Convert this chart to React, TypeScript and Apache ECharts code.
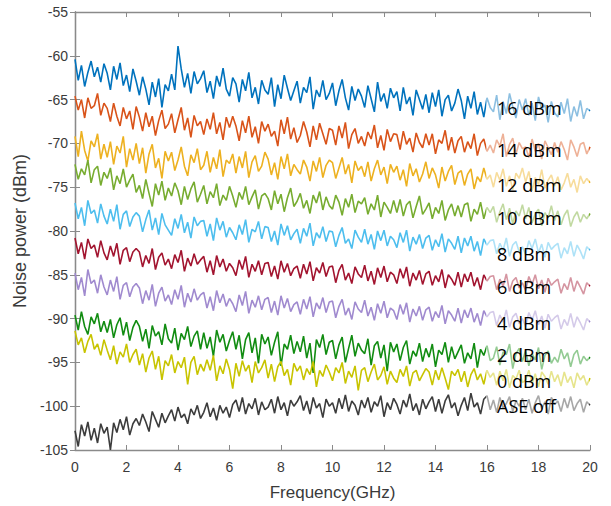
import React, { useEffect, useRef } from "react";
import * as echarts from "echarts";

// Sampling grid (GHz): 161 samples, 0.125 GHz apart, 0 to 20 GHz
const freqGHz: number[] = Array.from({ length: 161 }, (_, i) => i * 0.125);

const xTicks = [0, 2, 4, 6, 8, 10, 12, 14, 16, 18, 20];
const yTicks = [-105, -100, -95, -90, -85, -80, -75, -70, -65, -60, -55];

const seriesNames = ["16 dBm", "14 dBm", "12 dBm", "10 dBm", "8 dBm", "6 dBm", "4 dBm", "2 dBm", "0 dBm", "ASE off"];
const seriesColors = ["#0072BD", "#D95319", "#EDB120", "#77AC30", "#4DBEEE", "#A2142F", "#A08ACF", "#118C11", "#C8C400", "#3C3C3C"];

const p16 = [
  -60.4, -62.8, -61.1, -63.5, -61.9, -60.6, -62.4, -61.3, -63.0, -60.9,
  -62.0, -63.9, -61.2, -62.7, -60.8, -63.4, -62.2, -64.1, -61.5, -62.9,
  -64.5, -62.4, -63.8, -65.6, -63.0, -64.7, -62.6, -65.9, -63.3, -64.0,
  -62.1, -63.9, -58.9, -61.5, -63.6, -62.0, -64.3, -61.8, -63.2, -62.6,
  -61.7, -64.2, -62.9, -64.9, -62.3, -63.5, -61.4, -63.8, -64.6, -62.5,
  -63.2, -65.3, -62.7, -64.0, -61.9, -64.8, -63.6, -65.5, -62.8, -63.9,
  -64.4, -62.5, -65.8, -63.3, -64.9, -62.2, -63.7, -65.1, -64.0, -62.9,
  -65.4, -63.6, -64.2, -62.4, -66.1, -63.9, -64.7, -62.8, -65.0, -64.3,
  -63.1, -65.7, -64.0, -62.7, -64.8, -66.2, -63.5, -65.1, -63.8, -64.6,
  -65.9, -63.4, -64.9, -66.4, -63.0, -65.2, -64.3, -66.0, -63.7, -64.8,
  -64.1, -66.3, -63.6, -65.5, -64.7, -66.8, -63.9, -65.0, -66.1, -64.4,
  -66.5, -64.2, -65.8, -63.9, -66.9, -65.0, -64.5, -66.3, -65.4, -63.8,
  -65.1, -67.2, -64.6, -66.0, -64.1, -66.7, -65.3, -67.0, -64.8, -65.9,
  -66.4, -64.5, -67.3, -65.2, -66.6, -64.3, -65.8, -67.1, -65.0, -66.2,
  -64.9, -66.8, -65.4, -67.4, -64.7, -66.1, -65.6, -67.6, -65.2, -66.5,
  -67.0, -65.3, -66.6, -64.9, -67.5, -65.8, -66.9, -65.1, -67.2, -66.0,
  -66.3,
];
const p14 = [
  -64.6, -66.2, -65.0, -67.1, -64.8, -66.0, -65.7, -64.3, -66.8, -65.4,
  -66.0, -67.5, -65.4, -66.9, -68.0, -65.9, -67.2, -66.3, -68.4, -65.8,
  -67.0, -68.6, -66.5, -68.1, -66.9, -69.1, -67.4, -66.2, -68.3, -67.8,
  -66.6, -68.8, -67.3, -65.9, -68.5, -67.1, -69.3, -66.8, -68.0, -67.5,
  -69.0, -67.2, -68.4, -66.5, -68.9, -67.6, -69.6, -67.0, -68.2, -66.9,
  -68.0, -69.7, -67.4, -68.8, -66.9, -69.3, -68.1, -70.0, -67.5, -68.6,
  -67.8, -69.2, -68.6, -70.3, -67.3, -68.9, -67.0, -69.5, -68.2, -69.9,
  -69.1, -67.5, -68.7, -70.4, -68.0, -69.6, -67.7, -68.9, -70.1, -68.3,
  -68.5, -70.2, -68.0, -69.4, -67.6, -70.6, -69.0, -68.3, -70.0, -69.2,
  -70.3, -68.7, -69.5, -67.9, -70.5, -69.1, -70.8, -68.4, -69.8, -68.9,
  -69.0, -70.7, -68.6, -70.1, -69.4, -71.0, -68.8, -69.9, -70.5, -68.9,
  -70.2, -68.9, -71.2, -69.6, -70.0, -68.5, -70.8, -69.3, -71.1, -69.7,
  -69.2, -71.0, -69.8, -70.6, -68.9, -71.4, -70.0, -69.5, -70.9, -70.2,
  -71.1, -69.6, -70.3, -68.9, -71.5, -70.1, -69.4, -71.2, -69.9, -70.6,
  -70.4, -71.6, -69.5, -70.9, -70.0, -71.8, -69.7, -70.5, -71.3, -69.9,
  -71.0, -69.8, -70.7, -71.9, -69.6, -70.4, -71.5, -70.1, -69.9, -71.2,
  -70.4,
];
const p12 = [
  -69.2, -71.5, -68.6, -70.8, -72.0, -69.7, -70.4, -68.9, -71.8, -70.1,
  -71.6, -69.8, -72.4, -70.3, -71.1, -69.2, -72.7, -70.6, -71.9, -70.0,
  -72.3, -70.5, -73.4, -71.2, -70.1, -72.8, -71.7, -74.0, -70.9, -72.0,
  -71.0, -73.1, -71.9, -70.4, -72.6, -73.7, -71.3, -72.2, -70.6, -73.0,
  -72.5, -70.9, -73.3, -71.6, -72.9, -70.7, -73.8, -71.9, -72.3, -71.2,
  -73.4, -71.5, -72.8, -70.9, -73.9, -72.1, -71.4, -73.2, -72.6, -71.0,
  -71.8, -73.6, -72.2, -74.1, -71.5, -72.9, -71.2, -73.7, -72.4, -73.0,
  -73.5, -71.9, -72.7, -74.3, -72.0, -73.2, -71.6, -73.9, -72.5, -71.9,
  -72.2, -74.0, -72.8, -71.6, -73.5, -72.4, -74.5, -72.0, -73.1, -72.6,
  -73.8, -72.1, -74.3, -72.9, -71.9, -73.6, -72.7, -74.6, -72.4, -73.3,
  -72.6, -74.2, -73.0, -74.9, -72.3, -73.7, -72.9, -74.4, -73.5, -72.1,
  -74.0, -72.8, -73.6, -75.1, -72.7, -74.3, -73.2, -72.5, -74.7, -73.4,
  -73.1, -74.8, -73.5, -72.9, -75.2, -73.8, -74.4, -72.8, -74.1, -73.6,
  -75.0, -73.3, -74.2, -72.9, -74.9, -73.7, -75.3, -73.4, -74.0, -72.8,
  -74.4, -73.2, -75.4, -73.9, -74.7, -73.0, -75.1, -74.2, -73.6, -74.9,
  -73.8, -75.3, -74.5, -73.4, -75.0, -74.1, -75.6, -73.7, -74.6, -74.0,
  -74.5,
];
const p10 = [
  -72.4, -74.1, -72.9, -73.6, -71.9, -74.5, -73.0, -72.6, -74.8, -73.3,
  -74.0, -72.8, -75.3, -73.7, -74.6, -72.9, -75.0, -74.2, -73.5, -75.6,
  -74.8, -76.3, -74.1, -75.7, -77.2, -74.6, -75.9, -74.3, -76.5, -75.1,
  -76.0, -74.5, -75.4, -77.0, -74.9, -76.4, -75.2, -74.4, -76.7, -75.8,
  -74.8, -76.9, -75.5, -76.2, -74.6, -77.1, -75.9, -76.5, -74.9, -76.0,
  -77.3, -75.6, -76.4, -74.9, -77.0, -76.1, -75.3, -77.5, -76.0, -75.7,
  -76.3, -77.6, -75.4, -76.9, -75.8, -77.8, -76.2, -75.1, -77.2, -76.6,
  -75.7, -77.4, -76.5, -78.0, -75.9, -76.8, -75.5, -77.6, -76.1, -77.1,
  -77.5, -75.9, -76.7, -78.2, -76.3, -77.3, -75.8, -77.9, -76.6, -76.9,
  -76.2, -78.1, -76.9, -77.6, -75.9, -78.4, -76.7, -77.3, -78.0, -76.5,
  -77.9, -76.4, -78.3, -77.0, -76.6, -78.5, -77.2, -76.0, -78.1, -77.5,
  -76.8, -78.6, -77.3, -78.0, -76.5, -78.8, -77.6, -76.9, -78.3, -77.1,
  -78.4, -77.0, -76.8, -78.9, -77.5, -78.1, -76.7, -78.6, -77.3, -77.9,
  -77.2, -79.0, -77.8, -76.9, -78.7, -77.4, -79.2, -77.7, -78.3, -77.0,
  -78.6, -77.3, -79.1, -78.0, -77.5, -79.4, -77.9, -78.5, -77.1, -78.8,
  -77.7, -79.3, -78.2, -77.6, -79.5, -78.4, -77.8, -79.0, -78.1, -78.6,
  -78.0,
];
const p8 = [
  -76.8, -78.6, -77.3, -79.4, -76.5, -78.0, -77.6, -79.1, -76.9, -78.3,
  -79.2, -77.5, -78.9, -77.0, -79.8, -78.1, -77.7, -79.5, -78.4, -77.9,
  -78.3, -80.1, -78.7, -77.6, -79.9, -78.5, -80.4, -78.0, -79.3, -79.9,
  -80.5, -78.6, -79.7, -78.1, -80.2, -79.0, -80.8, -78.4, -79.4, -78.9,
  -78.8, -80.6, -79.2, -81.1, -78.5, -79.9, -78.9, -80.7, -79.6, -80.2,
  -81.0, -79.3, -80.4, -78.7, -81.3, -79.8, -80.1, -78.9, -80.9, -79.5,
  -79.6, -81.2, -80.0, -81.6, -79.2, -80.5, -79.4, -81.0, -80.3, -79.8,
  -81.4, -79.7, -80.6, -79.1, -81.7, -80.2, -80.8, -79.5, -81.2, -80.0,
  -80.1, -81.8, -80.5, -79.6, -81.4, -80.9, -82.0, -79.9, -80.7, -81.3,
  -79.8, -81.5, -80.4, -82.1, -80.0, -81.1, -79.9, -81.7, -80.6, -81.0,
  -81.9, -80.2, -81.3, -79.9, -82.3, -80.7, -81.5, -80.4, -82.0, -80.8,
  -80.5, -82.2, -81.0, -81.8, -80.3, -82.4, -80.9, -81.4, -82.1, -80.6,
  -82.5, -80.8, -81.7, -80.6, -82.3, -81.2, -82.8, -80.9, -81.6, -81.1,
  -81.0, -82.6, -81.4, -82.2, -80.8, -82.9, -81.6, -81.2, -82.4, -81.8,
  -82.7, -81.1, -82.0, -80.9, -82.5, -81.5, -83.0, -81.3, -82.1, -81.7,
  -81.4, -83.1, -81.9, -82.6, -81.2, -82.9, -81.6, -82.3, -83.2, -81.8,
  -82.2,
];
const p6 = [
  -80.8, -82.6, -81.3, -83.2, -80.9, -82.0, -81.6, -83.0, -81.1, -82.5,
  -83.3, -81.7, -82.9, -81.4, -83.8, -82.2, -81.9, -83.5, -82.4, -82.0,
  -82.4, -84.1, -82.8, -83.7, -82.0, -84.4, -83.0, -82.5, -83.9, -83.2,
  -84.3, -82.7, -83.6, -82.2, -84.6, -83.1, -84.0, -82.6, -83.8, -83.3,
  -82.9, -84.7, -83.4, -85.0, -82.8, -84.1, -83.2, -84.6, -83.7, -84.2,
  -85.1, -83.3, -84.4, -82.9, -85.3, -83.8, -84.6, -83.4, -85.0, -83.7,
  -83.6, -85.2, -84.0, -85.5, -83.4, -84.7, -83.7, -85.1, -84.3, -84.0,
  -85.4, -83.8, -84.9, -83.5, -85.7, -84.2, -84.8, -83.6, -85.2, -84.1,
  -84.0, -85.9, -84.5, -83.8, -85.6, -84.8, -86.0, -84.1, -84.9, -85.3,
  -83.9, -85.7, -84.6, -86.1, -84.2, -85.3, -84.0, -85.8, -84.7, -85.0,
  -86.0, -84.3, -85.4, -84.1, -86.3, -84.8, -85.6, -84.5, -86.1, -84.9,
  -84.6, -86.2, -85.1, -85.8, -84.4, -86.5, -85.0, -85.5, -86.2, -84.7,
  -86.4, -84.9, -85.8, -84.7, -86.3, -85.3, -86.7, -85.0, -85.7, -85.2,
  -85.1, -86.7, -85.5, -86.3, -84.9, -86.9, -85.7, -85.3, -86.5, -85.9,
  -86.8, -85.2, -86.1, -85.0, -86.6, -85.6, -87.0, -85.4, -86.2, -85.8,
  -85.5, -87.1, -86.0, -86.7, -85.3, -86.9, -85.7, -86.4, -87.2, -85.9,
  -86.3,
];
const p4 = [
  -84.8, -86.7, -85.3, -87.4, -84.4, -86.0, -85.6, -87.1, -85.0, -86.4,
  -87.3, -85.6, -86.9, -85.2, -87.8, -86.2, -85.9, -87.5, -86.4, -86.0,
  -86.5, -88.3, -86.8, -87.9, -86.1, -88.6, -87.1, -86.4, -88.0, -87.3,
  -88.4, -86.7, -87.8, -86.2, -88.7, -87.1, -88.1, -86.6, -87.9, -87.3,
  -87.0, -88.8, -87.5, -89.1, -86.8, -88.2, -87.2, -88.6, -87.7, -88.3,
  -89.2, -87.3, -88.5, -86.9, -89.4, -87.9, -88.7, -87.4, -89.0, -87.8,
  -87.6, -89.3, -88.0, -89.6, -87.4, -88.8, -87.7, -89.2, -88.4, -88.1,
  -89.5, -87.8, -88.9, -87.5, -89.8, -88.2, -88.9, -87.6, -89.3, -88.1,
  -88.0, -89.9, -88.6, -87.8, -89.6, -88.8, -90.1, -88.1, -88.9, -89.3,
  -87.9, -89.7, -88.7, -90.2, -88.3, -89.4, -88.0, -89.9, -88.8, -89.1,
  -90.1, -88.4, -89.5, -88.2, -90.4, -88.9, -89.7, -88.6, -90.2, -89.0,
  -88.7, -90.3, -89.2, -89.9, -88.5, -90.6, -89.1, -89.6, -90.3, -88.8,
  -90.5, -89.0, -89.9, -88.8, -90.4, -89.4, -90.8, -89.1, -89.8, -89.3,
  -89.2, -90.8, -89.6, -90.4, -89.0, -91.0, -89.8, -89.4, -90.6, -90.0,
  -90.9, -89.3, -90.2, -89.1, -90.7, -89.7, -91.1, -89.5, -90.3, -89.9,
  -89.6, -91.2, -90.1, -90.8, -89.4, -91.0, -89.8, -90.5, -91.3, -90.0,
  -90.4,
];
const p2 = [
  -89.6, -91.3, -89.2, -90.9, -91.8, -89.8, -90.6, -89.4, -91.5, -90.3,
  -91.6, -90.1, -92.2, -90.7, -89.9, -91.9, -90.4, -92.5, -91.0, -90.2,
  -90.9, -92.6, -91.2, -93.4, -90.8, -92.0, -91.5, -93.0, -90.6, -92.3,
  -92.8, -91.1, -93.6, -91.7, -92.4, -90.9, -93.2, -92.0, -91.4, -93.5,
  -91.6, -93.4, -92.1, -94.3, -91.3, -92.7, -91.8, -93.7, -92.5, -91.5,
  -93.5, -91.9, -94.6, -92.4, -91.6, -93.9, -92.2, -95.1, -91.8, -92.9,
  -92.1, -94.2, -92.7, -91.5, -95.4, -92.9, -93.5, -91.9, -94.0, -92.6,
  -93.8, -92.0, -94.5, -92.8, -96.2, -92.4, -93.3, -91.8, -94.1, -92.7,
  -92.5, -94.6, -93.0, -92.1, -95.0, -93.4, -91.9, -94.3, -92.8, -93.6,
  -94.0, -92.3, -95.3, -93.1, -92.6, -94.5, -93.0, -96.0, -92.7, -93.8,
  -92.9, -94.8, -93.3, -92.5, -95.2, -93.7, -94.3, -92.8, -94.9, -93.4,
  -94.4, -92.9, -95.5, -93.6, -94.1, -92.7, -95.0, -93.2, -94.6, -93.8,
  -93.0, -95.1, -93.9, -94.6, -92.8, -95.6, -93.5, -94.2, -93.1, -94.8,
  -94.5, -93.2, -95.3, -93.8, -94.1, -92.9, -95.7, -94.0, -93.4, -94.9,
  -93.6, -95.4, -94.0, -94.7, -93.3, -95.8, -94.2, -93.7, -95.1, -94.4,
  -95.0, -93.5, -94.6, -93.9, -95.5, -94.1, -93.6, -95.2, -94.3, -94.8,
  -94.4,
];
const p0 = [
  -91.4, -93.0, -92.2, -93.9, -92.6, -91.8, -93.5, -92.9, -94.2, -92.4,
  -93.6, -94.7, -93.1, -95.2, -93.8, -94.4, -92.9, -95.0, -94.1, -93.5,
  -95.3, -94.0, -96.1, -94.5, -93.7, -95.8, -94.3, -97.0, -94.8, -95.4,
  -94.1, -96.2, -94.9, -95.6, -94.4, -97.5, -95.0, -94.3, -96.4, -95.2,
  -96.0, -94.7, -95.9, -94.2, -97.1, -95.4, -96.3, -94.6, -95.8, -98.0,
  -95.1, -96.6, -94.8, -96.0, -95.3, -97.3, -94.9, -96.2, -95.6, -94.7,
  -96.8, -95.2, -97.2, -95.5, -94.9, -96.5, -95.8, -97.6, -95.1, -96.0,
  -95.4, -97.0, -95.7, -96.4, -94.9, -97.8, -95.9, -96.6, -95.3, -96.1,
  -97.1, -95.6, -96.2, -95.0, -97.4, -96.0, -96.7, -95.4, -98.2, -95.9,
  -95.6, -97.2, -96.1, -95.2, -97.0, -96.5, -95.5, -97.5, -96.0, -96.8,
  -97.3, -95.8, -96.6, -95.4, -97.7, -96.2, -95.9, -97.1, -96.4, -95.7,
  -96.1, -97.6, -95.9, -97.0, -95.6, -96.8, -98.1, -96.0, -96.5, -95.8,
  -97.2, -96.0, -97.8, -96.4, -95.7, -97.0, -96.3, -97.5, -95.9, -96.7,
  -96.2, -97.6, -96.0, -97.1, -95.8, -97.9, -96.5, -96.9, -95.9, -97.3,
  -97.0, -95.9, -97.4, -96.3, -97.8, -96.1, -96.6, -97.5, -96.0, -97.2,
  -96.4, -97.7, -96.1, -97.3, -96.6, -97.9, -96.2, -97.0, -96.5, -97.6,
  -96.8,
];
const aseOff = [
  -102.8, -104.6, -102.1, -103.4, -101.8, -103.9, -102.5, -104.2, -102.0, -103.1,
  -102.4, -105.0, -101.9, -103.0, -101.5, -102.7, -101.2, -103.3, -102.0, -101.4,
  -102.2, -100.9, -101.8, -102.9, -100.6, -101.5, -102.4, -100.8, -101.9, -101.1,
  -100.4, -101.7, -100.1, -101.3, -100.9, -102.0, -100.3, -101.0, -99.9, -101.4,
  -100.7, -99.6, -101.2, -100.2, -101.6, -99.9, -100.8, -100.1, -101.3, -99.8,
  -99.3, -100.6, -99.0, -100.9, -99.7, -100.3, -99.1, -101.0, -99.5, -100.4,
  -100.1, -99.2, -100.8, -98.9, -100.4, -99.6, -101.1, -99.3, -100.0, -99.5,
  -98.8, -100.5, -99.4, -100.9, -99.0, -100.2, -99.7, -101.3, -99.2, -100.0,
  -99.6, -100.8, -99.1, -100.3, -98.7, -100.6, -99.4, -99.9, -101.0, -99.3,
  -100.2, -99.0, -100.7, -99.5, -100.0, -98.8, -101.2, -99.6, -100.4, -99.1,
  -99.8, -100.9, -99.3, -100.1, -98.6, -100.5, -99.7, -101.0, -99.2, -100.3,
  -99.5, -98.9, -100.6, -99.2, -100.8, -99.4, -98.7, -100.2, -99.6, -101.1,
  -99.9, -99.0, -100.5, -98.5, -100.1, -99.6, -100.9, -99.2, -98.8, -100.4,
  -99.3, -100.7, -99.0, -100.2, -99.7, -98.9, -100.6, -99.4, -100.0, -99.1,
  -100.4, -99.2, -100.8, -99.6, -98.8, -100.3, -99.5, -100.9, -99.0, -99.8,
  -99.4, -100.6, -99.1, -100.2, -98.9, -100.5, -99.7, -99.2, -100.7, -99.5,
  -99.9,
];

const seriesValues = [p16, p14, p12, p10, p8, p6, p4, p2, p0, aseOff];

// label vertical centres (px) for the in-plot annotations
const labelY = [108, 150, 185, 218, 254, 287, 323, 355, 381, 406];

const FONT = "'Liberation Sans', Arial, sans-serif";

export default function App() {
  const ref = useRef<HTMLDivElement>(null);
  useEffect(() => {
    if (!ref.current) return;
    const chart = echarts.init(ref.current, undefined, { renderer: "svg" });
    const axisLine = { show: true, lineStyle: { color: "#8a8a8a", width: 1.3 } };
    const axisTick = { show: true, inside: true, length: 5, lineStyle: { color: "#8a8a8a", width: 1 } };
    const labelStyle = { color: "#3a3a3a", fontSize: 14, fontFamily: FONT };
    const option: any = {
      animation: false,
      backgroundColor: "#ffffff",
      grid: { left: 75, right: 21, top: 12, bottom: 56, containLabel: false },
      xAxis: [
        {
          type: "value",
          min: xTicks[0],
          max: xTicks[xTicks.length - 1],
          interval: 2,
          name: "Frequency(GHz)",
          nameLocation: "middle",
          nameGap: 34,
          nameTextStyle: { color: "#3a3a3a", fontSize: 17, fontFamily: FONT },
          axisLine,
          axisTick,
          axisLabel: { ...labelStyle, margin: 10 },
          splitLine: { show: false },
        },
        {
          type: "value",
          position: "top",
          min: xTicks[0],
          max: xTicks[xTicks.length - 1],
          interval: 2,
          axisLine,
          axisTick,
          axisLabel: { show: false },
          splitLine: { show: false },
        },
      ],
      yAxis: [
        {
          type: "value",
          min: yTicks[0],
          max: yTicks[yTicks.length - 1],
          interval: 5,
          name: "Noise power (dBm)",
          nameLocation: "middle",
          nameGap: 44,
          nameTextStyle: { color: "#3a3a3a", fontSize: 18, fontFamily: FONT },
          axisLine,
          axisTick,
          axisLabel: { ...labelStyle, margin: 7 },
          splitLine: { show: false },
        },
        {
          type: "value",
          position: "right",
          min: yTicks[0],
          max: yTicks[yTicks.length - 1],
          interval: 5,
          axisLine,
          axisTick,
          axisLabel: { show: false },
          splitLine: { show: false },
        },
      ],
      series: seriesNames.map((name, k) => ({
        name,
        type: "line",
        xAxisIndex: 0,
        yAxisIndex: 0,
        showSymbol: false,
        symbol: "none",
        data: seriesValues[k].map((v, i) => [freqGHz[i], v]),
        lineStyle: { color: seriesColors[k], width: 1.6 },
        itemStyle: { color: seriesColors[k] },
        z: 2 + k,
      })),
      graphic: [
        {
          type: "rect",
          z: 100,
          shape: { x: 486, y: 72, width: 103, height: 358 },
          style: { fill: "rgba(255,255,255,0.55)" },
        },
        ...seriesNames.map((name, k) => ({
          type: "text",
          z: 101,
          x: 497,
          y: labelY[k],
          style: {
            text: name,
            fill: "#000000",
            fontSize: 18,
            fontFamily: "'Open Sans', 'Noto Sans', sans-serif",
            verticalAlign: "middle",
            align: "left",
          },
        })),
      ],
    };
    chart.setOption(option);
    return () => chart.dispose();
  }, []);
  return (
    <div
      ref={ref}
      style={{ position: "absolute", left: 0, top: 0, width: 611, height: 506, background: "#fff" }}
    />
  );
}
